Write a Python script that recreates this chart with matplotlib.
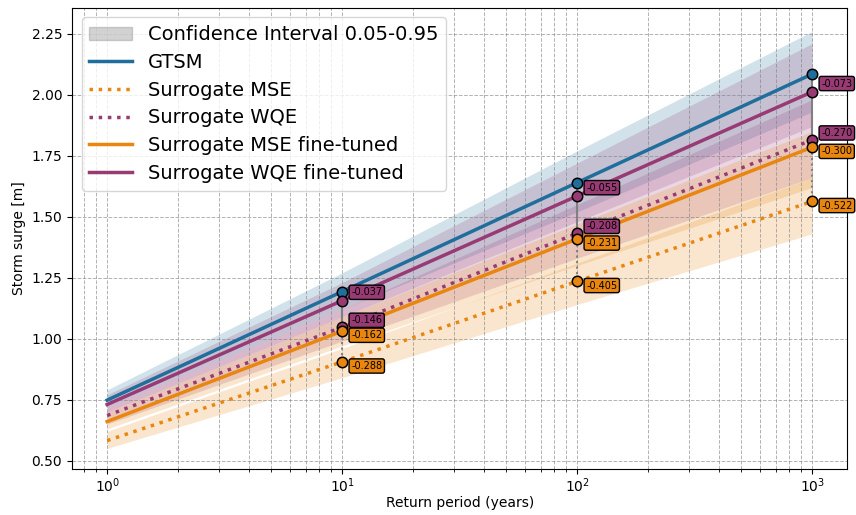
import numpy as np
import matplotlib.pyplot as plt

# DATA
periods = np.array([1, 10, 100, 1000])

gtsm = [0.748, 1.193, 1.640, 2.085]
gtsm_lo = [0.72, 1.12, 1.52, 1.93]
gtsm_hi = [0.79, 1.27, 1.77, 2.26]

wqe_ft = [0.730, 1.156, 1.585, 2.012]
wqe_ft_lo = [0.70, 1.09, 1.48, 1.87]
wqe_ft_hi = [0.77, 1.23, 1.72, 2.21]

wqe = [0.685, 1.047, 1.432, 1.815]
wqe_lo = [0.65, 0.99, 1.33, 1.66]
wqe_hi = [0.72, 1.12, 1.55, 1.98]

mse_ft = [0.660, 1.031, 1.409, 1.785]
mse_ft_lo = [0.63, 0.97, 1.30, 1.62]
mse_ft_hi = [0.70, 1.09, 1.47, 1.85]

mse = [0.582, 0.905, 1.235, 1.563]
mse_lo = [0.55, 0.84, 1.14, 1.43]
mse_hi = [0.62, 0.96, 1.31, 1.66]

# labels shown next to the points (difference to GTSM)
lab_wqe_ft = ['-0.037', '-0.055', '-0.073']
lab_wqe = ['-0.146', '-0.208', '-0.270']
lab_mse_ft = ['-0.162', '-0.231', '-0.300']
lab_mse = ['-0.288', '-0.405', '-0.522']

blue = '#1f6e9b'
purple = '#983a74'
orange = '#e8860f'

fig, ax = plt.subplots(figsize=(8.56, 5.15), dpi=100)
fig.subplots_adjust(left=0.084, right=0.99, top=0.985, bottom=0.09)

# confidence bands
ax.fill_between(periods, gtsm_lo, gtsm_hi, color=blue, alpha=0.2, lw=0)
ax.fill_between(periods, mse_lo, mse_hi, color=orange, alpha=0.2, lw=0)
ax.fill_between(periods, wqe_lo, wqe_hi, color=purple, alpha=0.2, lw=0)
ax.fill_between(periods, mse_ft_lo, mse_ft_hi, color=orange, alpha=0.2, lw=0)
ax.fill_between(periods, wqe_ft_lo, wqe_ft_hi, color=purple, alpha=0.2, lw=0)
ax.fill_between([], [], [], color='gray', alpha=0.35, label='Confidence Interval 0.05-0.95')

ax.plot(periods, gtsm, color=blue, lw=2.5, label='GTSM')
ax.plot(periods, mse, color=orange, lw=2.5, ls=':', label='Surrogate MSE')
ax.plot(periods, wqe, color=purple, lw=2.5, ls=':', label='Surrogate WQE')
ax.plot(periods, mse_ft, color=orange, lw=2.5, label='Surrogate MSE fine-tuned')
ax.plot(periods, wqe_ft, color=purple, lw=2.5, label='Surrogate WQE fine-tuned')

# vertical connectors + markers + labels at 10, 100, 1000
for i in range(1, 4):
    p = periods[i]
    ax.plot([p, p], [gtsm[i], mse_ft[i]], color='gray', lw=1.5, zorder=4)
    ax.plot([p, p], [mse_ft[i], mse[i]], color='gray', lw=1.5, ls=':', zorder=4)
    for vals, c in [(gtsm, blue), (wqe_ft, purple), (wqe, purple), (mse_ft, orange), (mse, orange)]:
        ax.plot(p, vals[i], 'o', ms=7.5, mfc=c, mec='k', mew=1.1, zorder=5)
    for vals, labs, c, dy in [(wqe_ft, lab_wqe_ft, purple, 6), (wqe, lab_wqe, purple, 5),
                              (mse_ft, lab_mse_ft, orange, -3), (mse, lab_mse, orange, -3)]:
        ax.annotate(labs[i - 1], (p, vals[i]), xytext=(6.5, dy), textcoords='offset points',
                    fontsize=7, va='center', ha='left', zorder=6,
                    bbox=dict(boxstyle='round,pad=0.22', fc=c, ec='k', lw=1))

ax.set_xscale('log')
ax.set_ylim(0.467, 2.357)
ax.set_yticks([0.5, 0.75, 1.0, 1.25, 1.5, 1.75, 2.0, 2.25])
ax.grid(True, which='both', ls='--', color='gray', alpha=0.6, lw=0.7)
ax.set_xlabel('Return period (years)', labelpad=1)
ax.set_ylabel('Storm surge [m]')
ax.tick_params(axis='x', which='major', pad=2)
ax.legend(loc='upper left', fontsize=14, handlelength=2.2, borderpad=0.4, labelspacing=0.45)

plt.savefig('out.png')
